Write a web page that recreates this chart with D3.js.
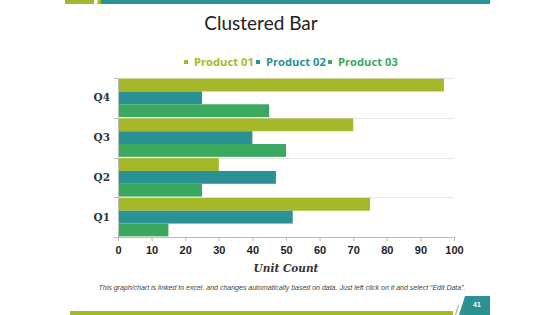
<!DOCTYPE html>
<html>
<head>
<meta charset="utf-8">
<title>Clustered Bar</title>
<script src="https://d3js.org/d3.v7.min.js"></script>
<style>
  body { margin: 0; background: #fff; }
  svg { display: block; }
</style>
</head>
<body>
<script>
  // chart data
  var quarters = ["Q4", "Q3", "Q2", "Q1"];
  var seriesNames = ["Product 01", "Product 02", "Product 03"];
  var product01 = [97, 70, 30, 75];
  var product02 = [25, 40, 47, 52];
  var product03 = [45, 50, 25, 15];
  var xTicks = [0, 10, 20, 30, 40, 50, 60, 70, 80, 90, 100];

  var colors = ["#a5b82a", "#2a9294", "#3aa95f"];
  var width = 560, height = 315;

  var svg = d3.select("body").append("svg")
    .attr("width", width).attr("height", height);

  // slide decoration
  svg.append("rect").attr("x", 65).attr("y", 0).attr("width", 29).attr("height", 4).attr("fill", "#a5b82a");
  svg.append("polygon").attr("points", "98,0 102,0 101,4 97,4").attr("fill", "#a5b82a");
  svg.append("rect").attr("x", 101).attr("y", 0).attr("width", 389).attr("height", 4).attr("fill", "#2a9294");

  svg.append("rect").attr("x", 70).attr("y", 311).attr("width", 383).attr("height", 4).attr("fill", "#a5b82a");
  svg.append("polygon").attr("points", "455,315 458,305 459,305 456,315").attr("fill", "#a5b82a");
  svg.append("polygon").attr("points", "459,315 465,296 490,296 490,315").attr("fill", "#2a9294");
  svg.append("text").attr("x", 477).attr("y", 307).attr("text-anchor", "middle")
    .attr("font-family", "Liberation Sans, Arial, sans-serif").attr("font-size", 7).attr("font-weight", "bold")
    .attr("fill", "#fff").text("41");

  svg.append("text").attr("x", 261).attr("y", 30).attr("text-anchor", "middle")
    .attr("font-family", "Lato, 'DejaVu Sans', sans-serif").attr("font-size", 19).attr("fill", "#222")
    .text("Clustered Bar");

  // legend
  var legendX = [184, 256, 328];
  var legend = svg.append("g");
  seriesNames.forEach(function(name, i) {
    legend.append("rect").attr("x", legendX[i]).attr("y", 60).attr("width", 4).attr("height", 4).attr("fill", colors[i]);
    legend.append("text").attr("x", legendX[i] + 10).attr("y", 66)
      .attr("font-family", "'Open Sans', 'DejaVu Sans', sans-serif").attr("font-size", 11.2).attr("font-weight", "bold")
      .attr("fill", colors[i]).text(name);
  });

  // scales
  var plotLeft = 118, plotRight = 454, plotTop = 78, plotBottom = 237;
  var x = d3.scaleLinear().domain([0, 100]).range([plotLeft, plotRight]);
  var y0 = d3.scaleBand().domain(quarters).range([plotTop, plotBottom]).paddingInner(0).paddingOuter(0);
  var y1 = d3.scaleBand().domain(seriesNames).range([0, y0.bandwidth()]).paddingOuter(0.05);

  // gridlines at category boundaries
  var bounds = quarters.map(function(q) { return y0(q); });
  svg.append("g").selectAll("line").data(bounds).enter().append("line")
    .attr("x1", plotLeft).attr("x2", plotRight)
    .attr("y1", function(d) { return Math.round(d) + 0.5; }).attr("y2", function(d) { return Math.round(d) + 0.5; })
    .attr("stroke", "#e6e6e6").attr("stroke-width", 1);

  // bars
  var rows = quarters.map(function(q, i) {
    return { q: q, vals: [product01[i], product02[i], product03[i]] };
  });
  var groups = svg.append("g").selectAll("g").data(rows).enter().append("g")
    .attr("transform", function(d) { return "translate(0," + y0(d.q) + ")"; });
  groups.selectAll("rect")
    .data(function(d) { return d.vals.map(function(v, i) { return { name: seriesNames[i], v: v, c: colors[i] }; }); })
    .enter().append("rect")
    .attr("x", x(0))
    .attr("y", function(d) { return y1(d.name); })
    .attr("width", function(d) { return x(d.v) - x(0); })
    .attr("height", y1.bandwidth())
    .attr("fill", function(d) { return d.c; });

  // y axis
  var yAxis = d3.axisLeft(y0).tickSize(0).tickPadding(8);
  var gy = svg.append("g").attr("transform", "translate(" + plotLeft + ",0)").call(yAxis);
  gy.select(".domain").attr("stroke", "#bbb");
  gy.selectAll("text").attr("font-family", "'DejaVu Serif', 'Liberation Serif', serif")
    .attr("font-size", 10.5).attr("font-weight", "bold").attr("fill", "#333");
  gy.selectAll(".bound").data(bounds.concat([plotBottom])).enter().append("line")
    .attr("class", "bound").attr("x1", -4).attr("x2", 0)
    .attr("y1", function(d) { return Math.round(d) + 0.5; }).attr("y2", function(d) { return Math.round(d) + 0.5; })
    .attr("stroke", "#bbb");

  // x axis
  var xAxis = d3.axisBottom(x).tickValues(xTicks).tickSize(4).tickPadding(5).tickSizeOuter(0);
  var gx = svg.append("g").attr("transform", "translate(0," + plotBottom + ")").call(xAxis);
  gx.select(".domain").attr("stroke", "#bbb");
  gx.selectAll("line").attr("stroke", "#bbb");
  gx.selectAll("text").attr("font-family", "'Liberation Sans', Arial, sans-serif")
    .attr("font-size", 11).attr("font-weight", "bold").attr("fill", "#222");

  svg.append("text").attr("x", (plotLeft + plotRight) / 2).attr("y", 272).attr("text-anchor", "middle")
    .attr("font-family", "'DejaVu Serif', 'Liberation Serif', serif").attr("font-size", 10.5)
    .attr("font-weight", "bold").attr("font-style", "italic").attr("fill", "#333")
    .text("Unit Count");

  svg.append("text").attr("x", 282).attr("y", 290).attr("text-anchor", "middle")
    .attr("font-family", "'Liberation Sans', Arial, sans-serif").attr("font-size", 7)
    .attr("font-style", "italic").attr("fill", "#444")
    .text("This graph/chart is linked to excel, and changes automatically based on data. Just left click on it and select \u201cEdit Data\u201d.");
</script>
</body>
</html>
